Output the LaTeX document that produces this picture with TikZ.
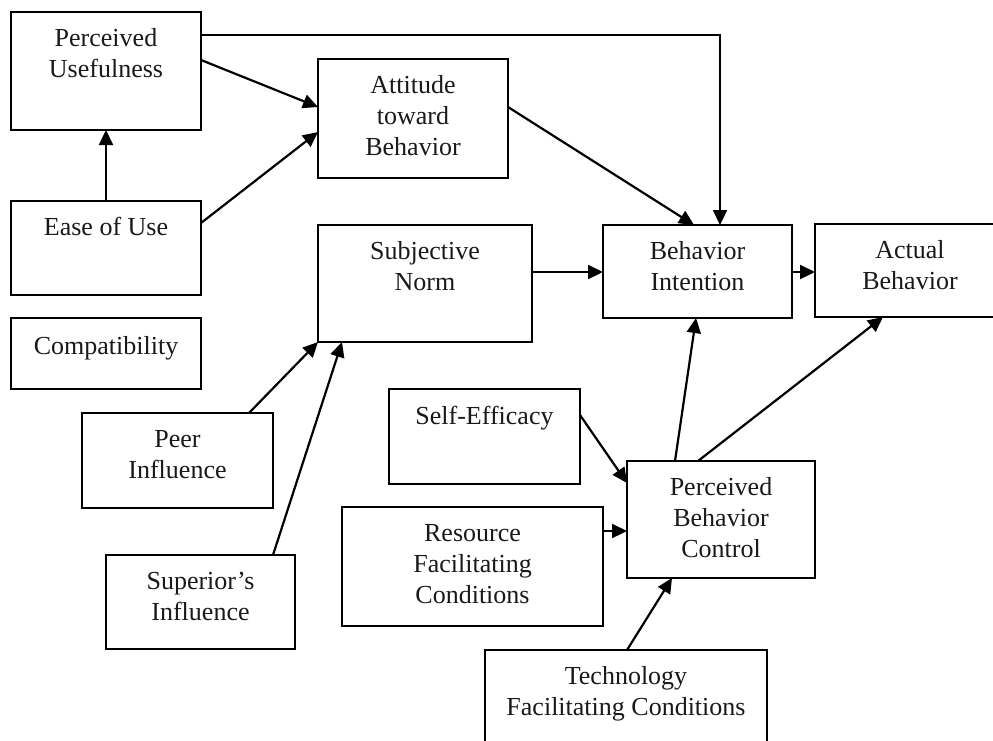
\documentclass[tikz,border=0pt]{standalone}
\usepackage{fontspec}
\setmainfont{Liberation Serif}
\usetikzlibrary{arrows.meta}
\tikzset{
  box/.style={draw, line width=2.6pt, inner sep=0pt, outer sep=0pt, anchor=north west, rectangle},
  lbl/.style={anchor=north, inner sep=0pt, align=center, text=black!90, font=\fontsize{26}{31}\selectfont},
  arr/.style={line width=2.2pt, -{Triangle[length=15pt,width=14pt]}},
}
\begin{document}
\begin{tikzpicture}[x=1pt,y=-1pt]
\useasboundingbox (0,0) rectangle (993,740);
\clip (0,0) rectangle (993,740);
% boxes
\node[box, minimum width=190pt, minimum height=118pt] (pu) at (11,12) {};
\node[box, minimum width=190pt, minimum height=119pt] (atb) at (318,59) {};
\node[box, minimum width=190pt, minimum height=94pt] (eou) at (11,201) {};
\node[box, minimum width=214pt, minimum height=117pt] (sn) at (318,225) {};
\node[box, minimum width=190pt, minimum height=71pt] (cmp) at (11,318) {};
\node[box, minimum width=189pt, minimum height=93pt] (bi) at (603,225) {};
\node[box, minimum width=190pt, minimum height=93pt] (ab) at (815,224) {};
\node[box, minimum width=191pt, minimum height=95pt] (peer) at (82,413) {};
\node[box, minimum width=189pt, minimum height=94pt] (sup) at (106,555) {};
\node[box, minimum width=191pt, minimum height=95pt] (se) at (389,389) {};
\node[box, minimum width=188pt, minimum height=117pt] (pbc) at (627,461) {};
\node[box, minimum width=261pt, minimum height=119pt] (res) at (342,507) {};
\node[box, minimum width=282pt, minimum height=110pt] (tech) at (485,650) {};
% labels
\node[lbl] (pu-t) at ([yshift=-12.3pt]pu.north) {\strut Perceived\\Usefulness};
\node[lbl] (atb-t) at ([yshift=-12.3pt]atb.north) {\strut Attitude\\toward\\Behavior};
\node[lbl] (eou-t) at ([yshift=-12.3pt]eou.north) {\strut Ease of Use};
\node[lbl] (sn-t) at ([yshift=-12.3pt]sn.north) {\strut Subjective\\Norm};
\node[lbl] (cmp-t) at ([yshift=-15pt]cmp.north) {\strut Compatibility};
\node[lbl] (bi-t) at ([yshift=-12.3pt]bi.north) {\strut Behavior\\Intention};
\node[lbl] (ab-t) at ([yshift=-12.3pt]ab.north) {\strut Actual\\Behavior};
\node[lbl] (peer-t) at ([yshift=-12.3pt]peer.north) {\strut Peer\\Influence};
\node[lbl] (sup-t) at ([yshift=-13pt]sup.north) {\strut Superior’s\\Influence};
\node[lbl] (se-t) at ([yshift=-14pt]se.north) {\strut Self-Efficacy};
\node[lbl] (pbc-t) at ([yshift=-12.3pt]pbc.north) {\strut Perceived\\Behavior\\Control};
\node[lbl] (res-t) at ([yshift=-12.3pt]res.north) {\strut Resource\\Facilitating\\Conditions};
\node[lbl] (tech-t) at ([yshift=-12.3pt]tech.north) {\strut Technology\\Facilitating Conditions};
% connectors
\draw[arr] ([yshift=-23pt]pu.north east) -| ([xshift=117pt]bi.north west);
\draw[arr] ([yshift=-48pt]pu.north east) -- ([yshift=-48pt]atb.north west);
\draw[arr] (eou.north) -- (pu.south);
\draw[arr] ([yshift=-22pt]eou.north east) -- ([yshift=-73pt]atb.north west);
\draw[arr] ([yshift=-48pt]atb.north east) -- ([xshift=91pt]bi.north west);
\draw[arr] ([yshift=-47pt]sn.north east) -- ([yshift=-47pt]bi.north west);
\draw[arr] ([yshift=-47pt]bi.north east) -- ([yshift=-48pt]ab.north west);
\draw[arr] ([xshift=167pt]peer.north west) -- (sn.south west);
\draw[arr] ([xshift=167pt]sup.north west) -- ([xshift=24pt]sn.south west);
\draw[arr] ([yshift=-26pt]se.north east) -- ([yshift=-22pt]pbc.north west);
\draw[arr] ([yshift=-24pt]res.north east) -- ([yshift=-70pt]pbc.north west);
\draw[arr] ([xshift=142pt]tech.north west) -- ([xshift=45pt]pbc.south west);
\draw[arr] ([xshift=48pt]pbc.north west) -- ([xshift=93pt]bi.south west);
\draw[arr] ([xshift=71pt]pbc.north west) -- ([xshift=68pt]ab.south west);
\end{tikzpicture}
\end{document}
